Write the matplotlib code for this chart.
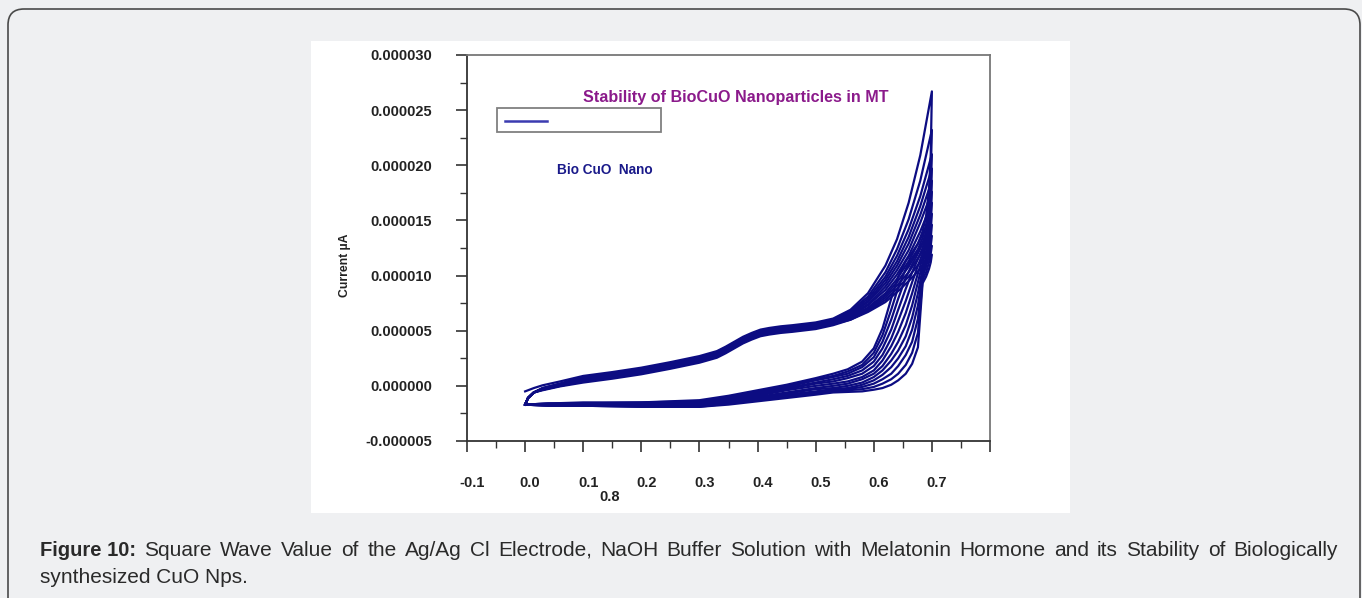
import matplotlib
matplotlib.use("Agg")
import matplotlib.pyplot as plt
from matplotlib.patches import Rectangle, FancyBboxPatch
from matplotlib.lines import Line2D
from matplotlib.ticker import MultipleLocator
from matplotlib.transforms import IdentityTransform, ScaledTranslation

# potential grid of the anodic (forward) sweep, V
fwd_E = [0.000, 0.005, 0.015, 0.030, 0.060, 0.100, 0.150, 0.200, 0.250, 0.300,
         0.330, 0.345, 0.360, 0.375, 0.390, 0.405, 0.420, 0.440, 0.460, 0.500,
         0.530, 0.560, 0.590, 0.620, 0.640, 0.660, 0.680, 0.700]

# forward current for each scan, uA
fwd_I = [
    [-0.5, -0.4, -0.2, 0.05, 0.4, 0.9, 1.25, 1.65, 2.15, 2.7, 3.15, 3.55, 4.0, 4.45, 4.8, 5.1, 5.25, 5.4, 5.5, 5.75, 6.1, 6.9, 8.4, 10.9, 13.3, 16.6, 20.9, 26.7],
    [-1.7, -1.1, -0.6, -0.2, 0.2, 0.8, 1.15, 1.55, 2.05, 2.6, 3.05, 3.45, 3.9, 4.35, 4.7, 5.0, 5.15, 5.3, 5.4, 5.65, 6.0, 6.8, 8.1, 10.3, 12.4, 15.1, 18.6, 23.2],
    [-1.7, -1.1, -0.6, -0.2, 0.2, 0.8, 1.15, 1.55, 2.05, 2.6, 3.05, 3.45, 3.9, 4.35, 4.7, 5.0, 5.15, 5.3, 5.4, 5.65, 6.0, 6.7, 7.9, 9.9, 11.8, 14.2, 17.2, 21.0],
    [-1.7, -1.1, -0.6, -0.25, 0.15, 0.7, 1.05, 1.45, 1.95, 2.5, 2.95, 3.35, 3.8, 4.25, 4.6, 4.9, 5.05, 5.2, 5.3, 5.55, 5.9, 6.6, 7.7, 9.6, 11.3, 13.5, 16.3, 19.7],
    [-1.7, -1.1, -0.6, -0.25, 0.15, 0.7, 1.05, 1.45, 1.95, 2.5, 2.95, 3.35, 3.8, 4.25, 4.6, 4.9, 5.05, 5.2, 5.3, 5.55, 5.9, 6.5, 7.6, 9.3, 10.9, 12.9, 15.5, 18.6],
    [-1.7, -1.1, -0.6, -0.3, 0.1, 0.6, 0.95, 1.35, 1.85, 2.4, 2.85, 3.25, 3.7, 4.15, 4.5, 4.8, 4.95, 5.1, 5.2, 5.45, 5.8, 6.4, 7.4, 9.0, 10.5, 12.3, 14.8, 17.6],
    [-1.7, -1.1, -0.6, -0.3, 0.1, 0.6, 0.95, 1.35, 1.85, 2.4, 2.85, 3.25, 3.7, 4.15, 4.5, 4.8, 4.95, 5.1, 5.2, 5.45, 5.8, 6.3, 7.3, 8.7, 10.1, 11.8, 14.0, 16.6],
    [-1.7, -1.1, -0.6, -0.3, 0.05, 0.5, 0.85, 1.25, 1.75, 2.3, 2.75, 3.15, 3.6, 4.05, 4.4, 4.7, 4.85, 5.0, 5.1, 5.35, 5.7, 6.2, 7.1, 8.4, 9.7, 11.3, 13.3, 15.6],
    [-1.7, -1.1, -0.6, -0.3, 0.05, 0.5, 0.85, 1.25, 1.75, 2.3, 2.75, 3.15, 3.6, 4.05, 4.4, 4.7, 4.85, 5.0, 5.1, 5.35, 5.7, 6.2, 7.0, 8.2, 9.4, 10.8, 12.6, 14.6],
    [-1.7, -1.1, -0.6, -0.35, 0.0, 0.4, 0.75, 1.15, 1.65, 2.2, 2.65, 3.05, 3.5, 3.95, 4.3, 4.6, 4.75, 4.9, 5.0, 5.25, 5.6, 6.1, 6.9, 8.0, 9.1, 10.3, 11.9, 13.6],
    [-1.7, -1.1, -0.6, -0.35, 0.0, 0.4, 0.75, 1.15, 1.65, 2.2, 2.65, 3.05, 3.5, 3.95, 4.3, 4.6, 4.75, 4.9, 5.0, 5.25, 5.6, 6.0, 6.8, 7.8, 8.8, 9.9, 11.2, 12.7],
    [-1.7, -1.1, -0.6, -0.4, -0.05, 0.3, 0.65, 1.05, 1.55, 2.1, 2.55, 2.95, 3.4, 3.85, 4.2, 4.5, 4.65, 4.8, 4.9, 5.15, 5.5, 6.0, 6.7, 7.6, 8.5, 9.5, 10.6, 11.9],
]

# potential grid of the return (reverse) sweep, V
rev_E = [0.700, 0.698, 0.695, 0.690, 0.684, 0.676, 0.666, 0.655, 0.642, 0.630,
         0.615, 0.600, 0.580, 0.555, 0.530, 0.500, 0.450, 0.400, 0.350, 0.300,
         0.200, 0.100, 0.040, 0.000]

# reverse current for each scan, uA
rev_I = [
    [26.7, 21.0, 17.8, 15.4, 14.0, 12.9, 12.1, 11.3, 9.9, 7.9, 5.2, 3.4, 2.2, 1.5, 1.1, 0.7, 0.1, -0.4, -0.9, -1.3, -1.5, -1.5, -1.6, -1.7],
    [23.2, 19.2, 16.6, 14.6, 13.4, 12.4, 11.6, 10.6, 8.9, 6.9, 4.6, 3.0, 1.9, 1.3, 0.9, 0.6, 0.0, -0.5, -1.0, -1.4, -1.5, -1.6, -1.6, -1.7],
    [21.0, 17.9, 15.7, 14.0, 12.9, 12.0, 11.0, 9.8, 7.9, 6.0, 4.0, 2.6, 1.7, 1.1, 0.8, 0.5, -0.1, -0.6, -1.1, -1.4, -1.6, -1.6, -1.6, -1.7],
    [19.7, 17.0, 15.1, 13.5, 12.5, 11.5, 10.3, 8.8, 6.9, 5.1, 3.4, 2.2, 1.4, 0.9, 0.6, 0.3, -0.2, -0.7, -1.2, -1.5, -1.6, -1.6, -1.7, -1.7],
    [18.6, 16.2, 14.5, 13.1, 12.0, 10.9, 9.4, 7.7, 5.9, 4.3, 2.8, 1.8, 1.1, 0.7, 0.4, 0.2, -0.3, -0.8, -1.3, -1.5, -1.6, -1.7, -1.7, -1.7],
    [17.6, 15.5, 14.0, 12.7, 11.6, 10.2, 8.4, 6.6, 4.9, 3.6, 2.3, 1.4, 0.8, 0.4, 0.2, 0.0, -0.4, -0.9, -1.3, -1.6, -1.7, -1.7, -1.7, -1.7],
    [16.6, 14.8, 13.4, 12.2, 11.1, 9.4, 7.3, 5.5, 4.0, 2.9, 1.8, 1.1, 0.6, 0.2, 0.0, -0.2, -0.6, -1.0, -1.4, -1.7, -1.7, -1.7, -1.7, -1.7],
    [15.6, 14.1, 12.9, 11.7, 10.6, 8.4, 6.2, 4.5, 3.2, 2.3, 1.4, 0.8, 0.3, 0.0, -0.2, -0.3, -0.7, -1.1, -1.5, -1.7, -1.8, -1.7, -1.7, -1.7],
    [14.6, 13.4, 12.3, 11.2, 10.2, 7.3, 5.1, 3.6, 2.5, 1.7, 1.0, 0.5, 0.1, -0.2, -0.3, -0.5, -0.8, -1.2, -1.5, -1.8, -1.8, -1.8, -1.7, -1.7],
    [13.6, 12.7, 11.8, 10.8, 9.9, 6.1, 4.0, 2.8, 1.8, 1.1, 0.6, 0.2, -0.1, -0.3, -0.4, -0.6, -0.9, -1.3, -1.6, -1.8, -1.8, -1.8, -1.8, -1.7],
    [12.7, 12.0, 11.2, 10.3, 9.6, 4.8, 3.0, 1.9, 1.1, 0.6, 0.2, -0.1, -0.3, -0.4, -0.5, -0.7, -1.0, -1.3, -1.6, -1.9, -1.9, -1.8, -1.8, -1.7],
    [11.9, 11.2, 10.6, 9.9, 9.3, 3.5, 2.0, 1.1, 0.5, 0.1, -0.2, -0.35, -0.5, -0.55, -0.6, -0.8, -1.1, -1.4, -1.7, -1.9, -1.9, -1.8, -1.8, -1.7],
]

x_ticks = [-0.1, 0.0, 0.1, 0.2, 0.3, 0.4, 0.5, 0.6, 0.7, 0.8]
x_labels = ["-0.1", "0.0", "0.1", "0.2", "0.3", "0.4", "0.5", "0.6", "0.7", ""]
y_ticks = [-0.000005, 0.0, 0.000005, 0.00001, 0.000015, 0.00002, 0.000025, 0.00003]

caption_1 = ("Square Wave Value of the Ag/Ag Cl Electrode, NaOH Buffer Solution with "
             "Melatonin Hormone and its Stability of Biologically")
caption_2 = "synthesized CuO Nps."

W, H = 1362, 598
navy = "#0c0c82"
ink = "#222222"

fig = plt.figure(figsize=(W / 100, H / 100), dpi=100)
fig.patch.set_facecolor("#eff0f2")

# rounded page frame and the white plot panel
fig.patches.append(FancyBboxPatch((8, -30), 1352, H - 9 + 30,
                                  boxstyle="round,pad=0,rounding_size=16",
                                  transform=IdentityTransform(), facecolor="none",
                                  edgecolor="#4a4a4a", linewidth=1.2, zorder=0))
fig.patches.append(Rectangle((311, H - 513), 1070 - 311, 513 - 41,
                             transform=IdentityTransform(), facecolor="white",
                             edgecolor="none", zorder=0))

ax = fig.add_axes([467 / W, (H - 441) / H, 523 / W, 386 / H])
ax.set_zorder(2)
ax.set_facecolor("white")

for k in range(len(fwd_I)):
    E = fwd_E + rev_E[1:]
    I = [v * 1e-6 for v in fwd_I[k] + rev_I[k][1:]]
    ax.plot(E, I, color=navy, linewidth=1.6, solid_joinstyle="round")

ax.set_xlim(-0.1, 0.8)
ax.set_ylim(-0.000005, 0.00003)
ax.set_xticks(x_ticks)
ax.set_xticklabels(x_labels)
ax.set_yticks(y_ticks)
ax.set_yticklabels(["%.6f" % v for v in y_ticks])
ax.xaxis.set_minor_locator(MultipleLocator(0.05))
ax.yaxis.set_minor_locator(MultipleLocator(0.0000025))

ax.tick_params(axis="both", which="major", direction="out", length=8, width=1.2,
               color="#333333", labelsize=10.5, labelcolor=ink)
ax.tick_params(axis="both", which="minor", direction="out", length=5, width=1.0,
               color="#333333")
ax.tick_params(axis="y", which="major", pad=17)
ax.tick_params(axis="x", which="major", pad=17)
for lab in ax.get_xticklabels() + ax.get_yticklabels():
    lab.set_fontweight("bold")
    lab.set_fontfamily("Liberation Sans")
for lab in ax.get_xticklabels():
    lab.set_transform(lab.get_transform() + ScaledTranslation(5 / 100, 0, fig.dpi_scale_trans))

for side in ["left", "bottom"]:
    ax.spines[side].set_color("#333333")
    ax.spines[side].set_linewidth(1.3)
for side in ["top", "right"]:
    ax.spines[side].set_color("#777777")
    ax.spines[side].set_linewidth(1.3)

ax.text(0.273, -0.145, "0.8", transform=ax.transAxes, ha="center", va="center",
        fontsize=10.5, fontweight="bold", family="Liberation Sans", color=ink)
ax.text(-0.233, 0.456, "Current \u00b5A", transform=ax.transAxes, rotation=90,
        ha="center", va="center", fontsize=8.8, fontweight="bold",
        family="Liberation Sans", color=ink)

ax.text(0.222, 0.891, "Stability of BioCuO Nanoparticles in MT", transform=ax.transAxes,
        ha="left", va="center", fontsize=11.6, fontweight="bold",
        family="Liberation Sans", color="#8b1a8b")
ax.text(0.172, 0.703, "Bio CuO  Nano", transform=ax.transAxes, ha="left", va="center",
        fontsize=9.8, fontweight="bold", family="Liberation Sans", color="#1a1a8a")

# legend frame with a single line sample
ax.add_patch(Rectangle((0.0574, 0.8005), 0.3136, 0.0622, transform=ax.transAxes,
                       facecolor="white", edgecolor="#808080", linewidth=1.3))
ax.add_line(Line2D([0.0727, 0.153], [0.829, 0.829], transform=ax.transAxes,
                   color="#3b3bb0", linewidth=1.8))

# caption under the panel, first line justified to the right margin
cap_kw = dict(family="Liberation Sans", color="#2a2a2a", va="baseline", ha="left")
y1 = (H - 556) / H
cap_bold = fig.text(40 / W, y1, "Figure 10:", fontsize=14.5, fontweight="bold", **cap_kw)
fig.canvas.draw()
renderer = fig.canvas.get_renderer()
x = cap_bold.get_window_extent(renderer).x1
words = caption_1.split(" ")
word_texts = [fig.text(0, y1, w, fontsize=15, **cap_kw) for w in words]
widths = [t.get_window_extent(renderer).width for t in word_texts]
gap = (1338 - x - sum(widths)) / len(words)
for t, w in zip(word_texts, widths):
    x += gap
    t.set_x(x / W)
    x += w
fig.text(40 / W, (H - 583) / H, caption_2, fontsize=15, **cap_kw)

fig.savefig("out.png", dpi=100, facecolor=fig.get_facecolor())
